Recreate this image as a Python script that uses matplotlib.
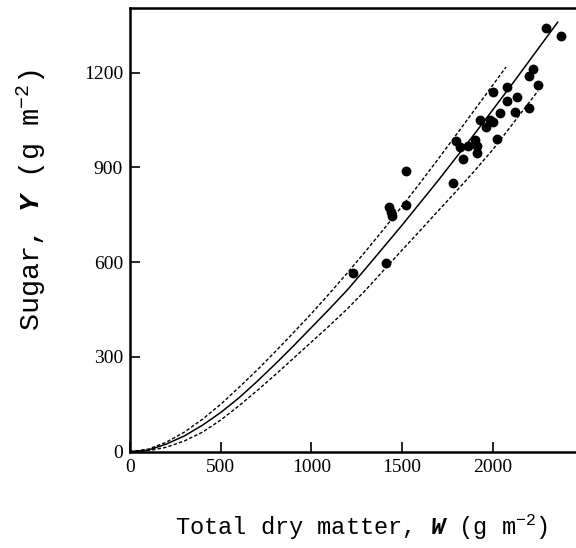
import matplotlib
matplotlib.use("Agg")
import matplotlib.pyplot as plt

# observed points: total dry matter W vs sugar Y (g m-2)
obs_w = [1232, 1412, 1431, 1438, 1445, 1522, 1522, 1779, 1796, 1820,
         1838, 1866, 1903, 1912, 1912, 1931, 1964, 1986, 2004, 2022,
         2000, 2078, 2081, 2041, 2124, 2133, 2202, 2221, 2249, 2202,
         2293, 2375]
obs_y = [567, 597, 776, 760, 746, 780, 890, 852, 985, 964,
         926, 968, 987, 968, 945, 1051, 1029, 1051, 1043, 990,
         1140, 1156, 1112, 1074, 1077, 1124, 1190, 1211, 1161, 1088,
         1343, 1317]

# fitted curve (solid)
fit_w = [0, 100, 200, 300, 400, 500, 600, 700, 800, 900, 1000, 1100,
         1200, 1300, 1500, 1700, 1900, 2100, 2300, 2359]
fit_y = [0, 5, 24, 50, 84, 124, 170, 222, 277, 334, 393, 452,
         513, 580, 717, 859, 1006, 1158, 1314, 1360]

# upper and lower bounds (dashed)
up_w = [0, 100, 200, 300, 400, 500, 600, 700, 800, 900, 1000, 1100,
        1200, 1300, 1400, 1500, 1600, 1700, 1800, 1900, 2000, 2074]
up_y = [0, 8, 30, 62, 103, 150, 203, 258, 316, 376, 437, 501,
        567, 635, 705, 777, 851, 927, 1004, 1082, 1160, 1218]
lo_w = [0, 100, 200, 300, 400, 500, 600, 700, 800, 900, 1000, 1100,
        1200, 1300, 1400, 1500, 1600, 1700, 1800, 1900, 2000, 2100,
        2200, 2250]
lo_y = [0, 3, 14, 34, 62, 100, 145, 193, 243, 295, 347, 399,
        453, 512, 575, 638, 700, 763, 825, 889, 956, 1030,
        1105, 1142]

x_ticks = [0, 500, 1000, 1500, 2000]
y_ticks = [0, 300, 600, 900, 1200]

plt.rcParams['mathtext.fontset'] = 'custom'
plt.rcParams['mathtext.rm'] = 'Liberation Mono'
plt.rcParams['mathtext.it'] = 'Liberation Mono:italic:bold'

fig = plt.figure(figsize=(5.76, 5.48), dpi=100)
ax = fig.add_axes([130 / 576, 1 - 451.7 / 548, 1 - 130 / 576, 443.7 / 548])

ax.plot(fit_w, fit_y, color='black', lw=1.1)
ax.plot(up_w, up_y, color='black', lw=1.0, ls=(0, (2.5, 1.5)))
ax.plot(lo_w, lo_y, color='black', lw=1.0, ls=(0, (2.5, 1.5)))
ax.scatter(obs_w, obs_y, s=50, color='black', zorder=3, linewidths=0)

ax.set_xlim(0, 2460)
ax.set_ylim(0, 1405)
ax.set_xticks(x_ticks)
ax.set_yticks(y_ticks)
ax.tick_params(direction='in', length=7, width=1.2, pad=5,
               labelsize=14)
for lab in ax.get_xticklabels() + ax.get_yticklabels():
    lab.set_family('Liberation Serif')

ax.spines['right'].set_visible(False)
for side in ['left', 'bottom', 'top']:
    ax.spines[side].set_linewidth(1.8)

fig.text(362 / 576, 1 - 527 / 548, r'Total dry matter, $\mathit{W}$ (g m$^{-2}$)',
         ha='center', va='center', fontsize=17, family='Liberation Mono')
fig.text(31 / 576, 1 - 200 / 548, r'Sugar, $\mathit{Y}$ (g m$^{-2}$)',
         ha='center', va='center', rotation=90, fontsize=20.5,
         family='Liberation Mono')

fig.savefig('out.png', dpi=100)
